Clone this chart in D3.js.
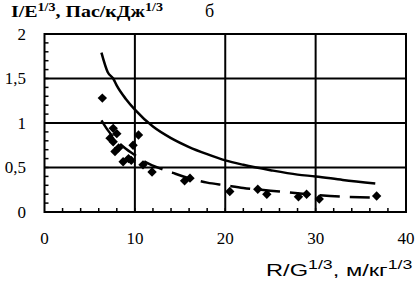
<!DOCTYPE html>
<html><head><meta charset="utf-8">
<script src="https://cdn.jsdelivr.net/npm/d3@7"></script>
<style>body{margin:0;background:#fff}svg{display:block}</style>
</head><body>
<script>
// Data
const pointsX = [6.4, 7.6, 8.0, 7.25, 7.6, 7.8, 8.2, 10.4, 9.8, 8.7, 9.3, 9.6, 10.9, 11.9, 16.1, 15.5, 20.5, 23.6, 24.6, 29.0, 28.1, 30.4, 36.75];
const pointsY = [1.28, 0.94, 0.88, 0.83, 0.79, 0.68, 0.72, 0.865, 0.75, 0.565, 0.60, 0.58, 0.53, 0.45, 0.38, 0.35, 0.23, 0.255, 0.20, 0.20, 0.17, 0.146, 0.18];
const solidX = [6.3, 7, 7.6, 8, 9, 10, 12, 14, 16, 18, 20, 22, 25, 28, 30, 33, 36.6];
const solidY = [1.79, 1.57, 1.5, 1.42, 1.27, 1.15, 0.96, 0.83, 0.73, 0.65, 0.58, 0.53, 0.47, 0.42, 0.40, 0.36, 0.32];
const dashX = [6.3, 7, 8, 9, 10, 11, 12, 14.2, 16, 18, 20, 22, 25, 28, 31.6, 36.7];
const dashY = [1.03, 0.92, 0.80, 0.71, 0.64, 0.57, 0.52, 0.44, 0.38, 0.33, 0.30, 0.27, 0.24, 0.21, 0.18, 0.16];
const xTicks = [0, 10, 20, 30, 40];
const yTicks = [0, 0.5, 1, 1.5, 2];
const yTickLabels = ["0", "0,5", "1", "1,5", "2"];

const W = 417, H = 283;
const svg = d3.select("body").append("svg").attr("width", W).attr("height", H);
const x = d3.scaleLinear().domain([0, 40]).range([44.5, 406]);
const y = d3.scaleLinear().domain([0, 2]).range([212, 34]);

// gridlines
const g = svg.append("g");
[10, 20, 30].forEach(v => g.append("line").attr("x1", x(v)).attr("x2", x(v)).attr("y1", y(0)).attr("y2", y(2)).attr("stroke", "#000").attr("stroke-width", 2));
[0.5, 1, 1.5].forEach(v => g.append("line").attr("x1", x(0)).attr("x2", x(40)).attr("y1", y(v)).attr("y2", y(v)).attr("stroke", "#000").attr("stroke-width", 2));
// minor ticks
d3.range(2, 40, 2).forEach(v => g.append("line").attr("x1", x(v)).attr("x2", x(v)).attr("y1", y(0)).attr("y2", y(0) - 4).attr("stroke", "#000").attr("stroke-width", 1.5));
d3.range(1, 20).forEach(i => g.append("line").attr("x1", x(0)).attr("x2", x(0) + 4).attr("y1", y(i / 10)).attr("y2", y(i / 10)).attr("stroke", "#000").attr("stroke-width", 1.5));
// frame
g.append("rect").attr("x", x(0)).attr("y", y(2)).attr("width", x(40) - x(0)).attr("height", y(0) - y(2)).attr("fill", "none").attr("stroke", "#000").attr("stroke-width", 2);

// tick labels
svg.append("g").selectAll("text").data(xTicks).join("text")
  .attr("x", d => x(d)).attr("y", 244).attr("text-anchor", "middle")
  .attr("font-family", "Liberation Serif, serif").attr("font-size", 17).text(d => d);
svg.append("g").selectAll("text").data(yTicks).join("text")
  .attr("x", 26).attr("y", d => y(d) + 5.5).attr("text-anchor", "end")
  .attr("font-family", "Liberation Serif, serif").attr("font-size", 17).text((d, i) => yTickLabels[i]);

// curves
const line = d3.line().x(d => x(d[0])).y(d => y(d[1])).curve(d3.curveMonotoneX);
svg.append("path").attr("d", line(solidX.map((v, i) => [v, solidY[i]])))
  .attr("fill", "none").attr("stroke", "#000").attr("stroke-width", 2.5);
svg.append("path").attr("d", line(dashX.map((v, i) => [v, dashY[i]])))
  .attr("fill", "none").attr("stroke", "#000").attr("stroke-width", 2.5).attr("stroke-dasharray", "20,10");

// points
svg.append("g").selectAll("path").data(pointsX.map((v, i) => [v, pointsY[i]])).join("path")
  .attr("d", d3.symbol().type(d3.symbolSquare).size(44))
  .attr("transform", d => `translate(${x(d[0])},${y(d[1])}) rotate(45)`)
  .attr("fill", "#000");

// title
function fitText(sel, x0, targetW) {
  const w = sel.node().getBBox().width;
  const s = targetW / w;
  const yy = +sel.attr("y");
  sel.attr("x", 0).attr("y", 0).attr("transform", `translate(${x0},${yy}) scale(${s},1)`);
}
const t = svg.append("text").attr("x", 11).attr("y", 17).attr("font-family", "Liberation Serif, serif").attr("font-size", 17).attr("font-weight", "bold");
t.append("tspan").text("I/E");
t.append("tspan").attr("font-size", 12).attr("dy", -6).text("1/3");
t.append("tspan").attr("dy", 6).text(", Пас/кДж");
t.append("tspan").attr("font-size", 12).attr("dy", -6).text("1/3");
fitText(t, 11, 152);
svg.append("text").attr("x", 205).attr("y", 17).attr("font-family", "Liberation Serif, serif").attr("font-size", 18).text("б");

// x label
const xl = svg.append("text").attr("x", 266).attr("y", 276).attr("font-family", "Liberation Sans, Arial, sans-serif").attr("font-size", 16);
xl.append("tspan").text("R/G");
xl.append("tspan").attr("font-size", 12).attr("dy", -7).text("1/3");
xl.append("tspan").attr("dy", 7).text(", м/кг");
xl.append("tspan").attr("font-size", 12).attr("dy", -7).text("1/3");
fitText(xl, 266, 147);
</script>
</body></html>
